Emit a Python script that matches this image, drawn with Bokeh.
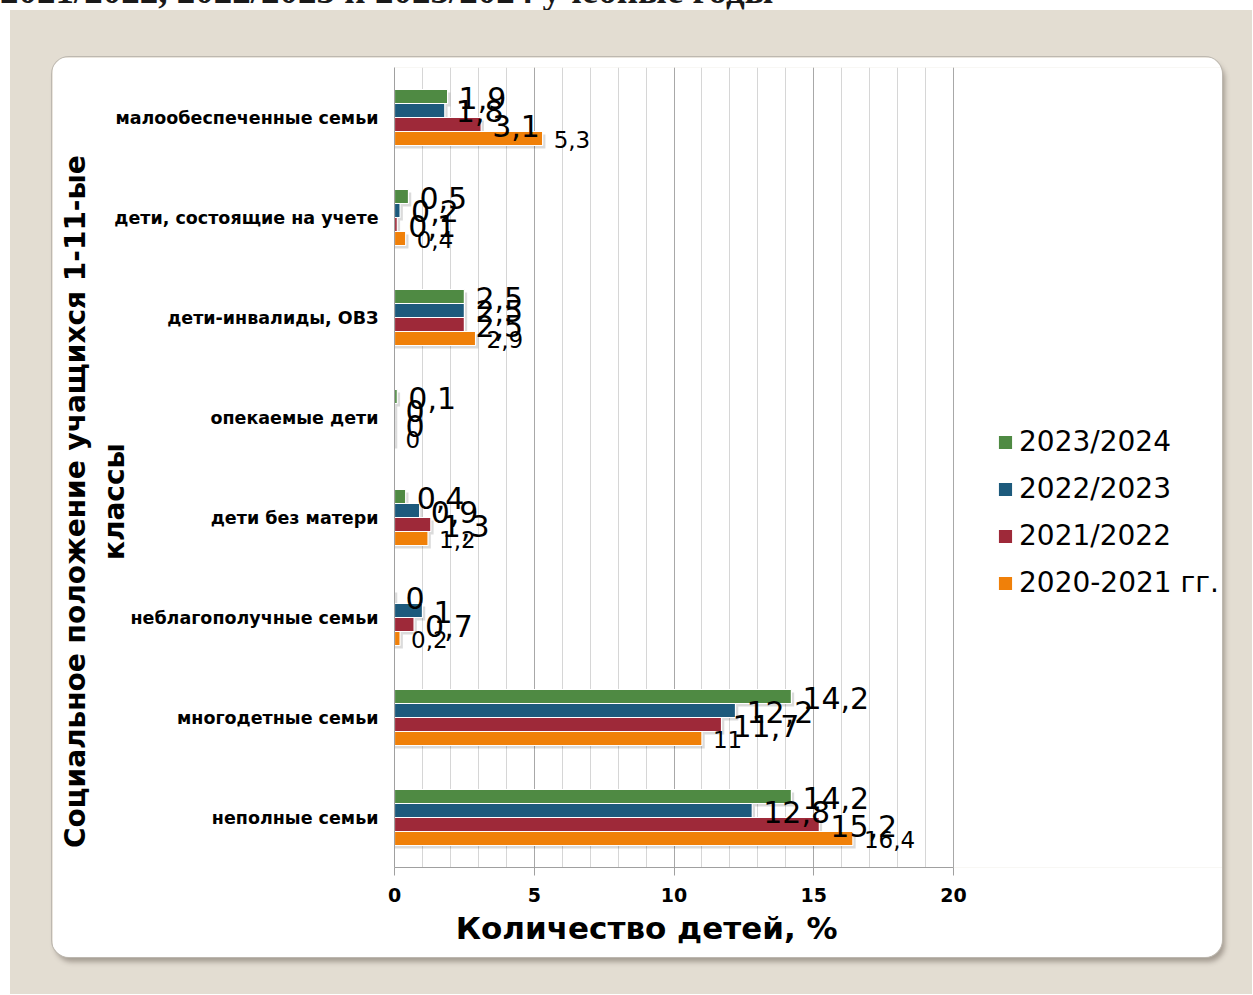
from bokeh.plotting import figure
from bokeh.layouts import column
from bokeh.models import (FactorRange, Range1d, SingleIntervalTicker, Legend, LegendItem,
                          ColumnDataSource, Div)
from bokeh.transform import dodge
from bokeh.embed import file_html
from bokeh.resources import INLINE
from bokeh.core.properties import value

# ---------------- data ----------------
categories = ["малообеспеченные семьи", "дети, состоящие на учете", "дети-инвалиды, ОВЗ",
              "опекаемые дети", "дети без матери", "неблагополучные семьи",
              "многодетные семьи", "неполные семьи"]
series_names = ["2023/2024", "2022/2023", "2021/2022", "2020-2021 гг."]
v_2023_2024 = [1.9, 0.5, 2.5, 0.1, 0.4, 0, 14.2, 14.2]
v_2022_2023 = [1.8, 0.2, 2.5, 0, 0.9, 1, 12.2, 12.8]
v_2021_2022 = [3.1, 0.1, 2.5, 0, 1.3, 0.7, 11.7, 15.2]
v_2020_2021 = [5.3, 0.4, 2.9, 0, 1.2, 0.2, 11, 16.4]
x_min, x_max, x_tick_step = 0, 20, 5
x_title = "Количество детей, %"
y_title_1 = "Социальное положение учащихся 1-11-ые"
y_title_2 = "классы"
top_text = "2021/2022, 2022/2023 и 2023/2024 учебные годы"

series_values = [v_2023_2024, v_2022_2023, v_2021_2022, v_2020_2021]
colors = ["#4f8a43", "#1d5a7c", "#9e2939", "#f08009"]
offsets = [0.21, 0.07, -0.07, -0.21]
label_sizes = ["30px", "30px", "30px", "23px"]

BEIGE = "#e3ddd2"
FONT = "DejaVu Sans"

# panel (white rounded box) is the figure itself: page x 52..1222, y 57..957
PW, PH = 1170, 900
LEFT, RIGHT, TOP, BOTTOM = 342, 0, 10, 90
frame_w = PW - LEFT - RIGHT
axis_px = 559  # pixels spanned by x_min..x_max; the frame continues to the right for the legend
p = figure(width=PW, height=PH, output_backend="svg", toolbar_location=None,
           y_range=FactorRange(factors=list(reversed(categories)), range_padding=0),
           x_range=Range1d(x_min, x_min + (x_max - x_min) * frame_w / axis_px),
           min_border_left=LEFT, min_border_right=RIGHT, min_border_top=TOP,
           min_border_bottom=BOTTOM, margin=(47, 30, 37, 42))
p.title.visible = False
p.border_fill_color = "white"
p.background_fill_color = "white"
p.outline_line_color = None
p.styles = {"border-radius": "17px", "overflow": "hidden",
            "box-shadow": "0 0 0 1px #bdb8b0, 3px 5px 5px rgba(90,80,70,0.45)"}

# axes / grid
ticker = SingleIntervalTicker(interval=x_tick_step, num_minor_ticks=5)
p.xaxis.ticker = ticker
p.xaxis.bounds = (x_min, x_max)
p.xgrid.ticker = ticker
p.xgrid.bounds = (x_min, x_max)
p.xgrid.grid_line_color = "#a8a8a8"
p.xgrid.minor_grid_line_color = "#d6d6d6"
p.ygrid.visible = False

xa = p.xaxis[0]
xa.axis_line_color = "#a0a0a0"
xa.major_tick_line_color = "#a0a0a0"
xa.major_tick_out = 8
xa.major_tick_in = 0
xa.minor_tick_out = 0
xa.minor_tick_in = 0
xa.major_label_standoff = 12
xa.major_label_text_font = FONT
xa.major_label_text_font_style = "bold"
xa.major_label_text_font_size = "19px"
xa.major_label_text_color = "black"
# trailing no-break spaces move the (frame-centred) title left, under the 0..20 axis
xa.axis_label = x_title + "\u00a0" * 30
xa.axis_label_text_font = FONT
xa.axis_label_text_font_style = "bold"
xa.axis_label_text_font_size = "31px"
xa.axis_label_text_color = "black"
xa.axis_label_standoff = 5

ya = p.yaxis[0]
ya.axis_line_color = "#a0a0a0"
ya.major_tick_out = 0
ya.major_tick_in = 0
ya.minor_tick_out = 0
ya.major_label_standoff = 16
ya.major_label_text_font = FONT
ya.major_label_text_font_style = "bold"
ya.major_label_text_font_size = "17.5px"
ya.major_label_text_color = "black"
pad = "\u00a0" * 7
ya.axis_label = y_title_1 + pad + "\n" + y_title_2 + pad
ya.axis_label_text_font = FONT
ya.axis_label_text_font_style = "bold"
ya.axis_label_text_font_size = "28px"
ya.axis_label_text_color = "black"
ya.axis_label_text_align = "center"
ya.axis_label_standoff = -20

# bars
renderers = []
for name, vals, col, off in zip(series_names, series_values, colors, offsets):
    src = ColumnDataSource(dict(cat=categories, val=vals, shadow=[v + 0.1 for v in vals]))
    p.hbar(y=dodge("cat", off - 0.03, range=p.y_range), left=0, right="shadow", height=0.14,
           source=src, fill_color="black", fill_alpha=0.14, line_color=None)
    r = p.hbar(y=dodge("cat", off, range=p.y_range), left=0, right="val", height=0.14,
               source=src, fill_color=col, line_color="white", line_width=1.2)
    renderers.append(r)

# data labels (drawn after all bars)
for name, vals, off, fs in zip(series_names, series_values, offsets, label_sizes):
    src = ColumnDataSource(dict(cat=categories, val=vals,
                                lab=[f"{v:g}".replace(".", ",") for v in vals]))
    p.text(x="val", y=dodge("cat", off, range=p.y_range), text="lab", source=src,
           x_offset=11, y_offset=1, text_baseline="middle", text_align="left",
           text_font=value(FONT), text_font_size=fs, text_color="black")

legend = Legend(items=[LegendItem(label=n, renderers=[r]) for n, r in zip(series_names, renderers)],
                location=(602, 268), padding=0, margin=0, spacing=14,
                glyph_width=18, glyph_height=18, label_standoff=5,
                label_text_font=FONT, label_text_font_size="28px", label_height=28,
                label_text_color="black",
                background_fill_alpha=0, border_line_color=None)
p.add_layout(legend, "center")

top = Div(text=('<div style="position:relative; top:-28px; white-space:nowrap; '
                'font-family:\'Liberation Serif\'; font-weight:bold; font-size:37px; '
                'line-height:1; color:#1a1a1a;">' + top_text + '</div>'),
          width=1252, height=10, margin=0, styles={"overflow": "hidden"})
inner = column(p, margin=(0, 0, 0, 10), styles={"background-color": BEIGE})
page = column(top, inner, margin=0)

open("out.html", "w").write(file_html(page, INLINE))
